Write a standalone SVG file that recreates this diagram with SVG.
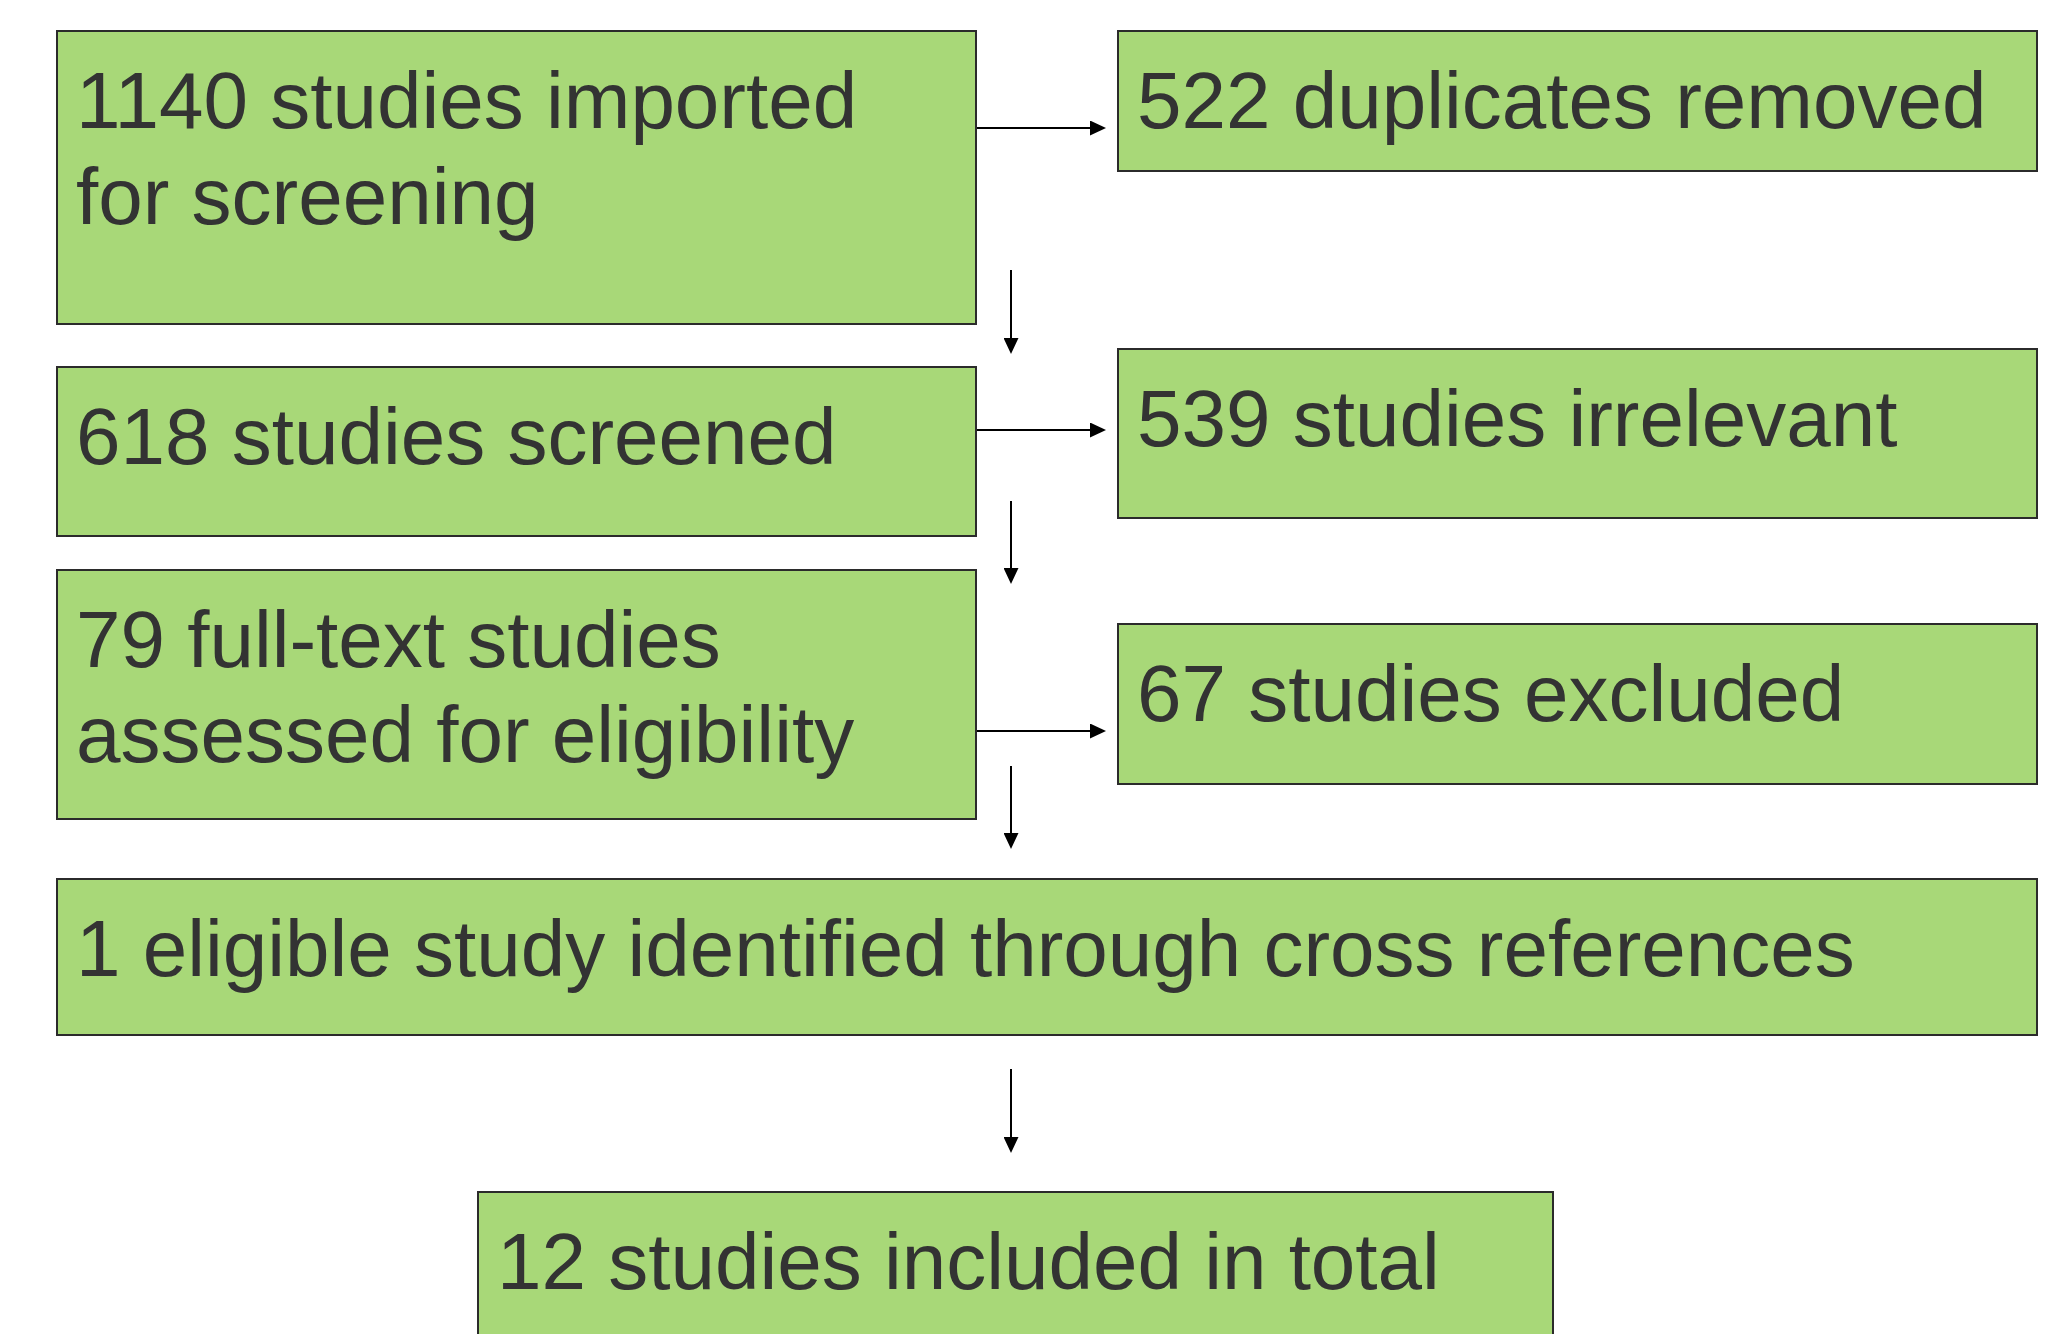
<svg xmlns="http://www.w3.org/2000/svg" width="2046" height="1334" viewBox="0 0 2046 1334">
  <style>
    .box { fill: #A8D878; stroke: #2b2b2b; stroke-width: 2; }
    .lbl { font-family: "Liberation Sans", Arial, sans-serif; font-size: 80px; fill: #333333; }
    .edge { fill: none; stroke: #000000; stroke-width: 2; }
  </style>
  <defs>
    <marker id="arrowhead" viewBox="0 0 16 15" refX="8" refY="7.5" markerWidth="16" markerHeight="15" markerUnits="userSpaceOnUse" orient="auto">
      <path d="M0,0 L16,7.5 L0,15 Z" fill="#000000"/>
    </marker>
  </defs>
  <rect width="2046" height="1334" fill="#ffffff"/>

  <!-- flow nodes -->
  <g id="imported">
    <rect class="box" x="57" y="31" width="919" height="293"/>
    <text class="lbl" x="76" y="128">1140 studies imported</text>
    <text class="lbl" x="76" y="224">for screening</text>
  </g>
  <g id="duplicates">
    <rect class="box" x="1118" y="31" width="919" height="140"/>
    <text class="lbl" x="1137" y="128">522 duplicates removed</text>
  </g>
  <g id="screened">
    <rect class="box" x="57" y="367" width="919" height="169"/>
    <text class="lbl" x="76" y="464">618 studies screened</text>
  </g>
  <g id="irrelevant">
    <rect class="box" x="1118" y="349" width="919" height="169"/>
    <text class="lbl" x="1137" y="446">539 studies irrelevant</text>
  </g>
  <g id="fulltext">
    <rect class="box" x="57" y="570" width="919" height="249"/>
    <text class="lbl" x="76" y="667">79 full-text studies</text>
    <text class="lbl" x="76" y="762">assessed for eligibility</text>
  </g>
  <g id="excluded">
    <rect class="box" x="1118" y="624" width="919" height="160"/>
    <text class="lbl" x="1137" y="721">67 studies excluded</text>
  </g>
  <g id="crossref">
    <rect class="box" x="57" y="879" width="1980" height="156"/>
    <text class="lbl" x="76" y="976">1 eligible study identified through cross references</text>
  </g>
  <g id="included">
    <rect class="box" x="478" y="1192" width="1075" height="200"/>
    <text class="lbl" x="497" y="1289">12 studies included in total</text>
  </g>

  <!-- connectors -->
  <g id="connectors">
    <path class="edge" d="M977,128 H1098" marker-end="url(#arrowhead)"/>
    <path class="edge" d="M977,430 H1098" marker-end="url(#arrowhead)"/>
    <path class="edge" d="M977,731 H1098" marker-end="url(#arrowhead)"/>
    <path class="edge" d="M1011,270 V346" marker-end="url(#arrowhead)"/>
    <path class="edge" d="M1011,501 V576" marker-end="url(#arrowhead)"/>
    <path class="edge" d="M1011,766 V841" marker-end="url(#arrowhead)"/>
    <path class="edge" d="M1011,1069 V1145" marker-end="url(#arrowhead)"/>
  </g>
</svg>
